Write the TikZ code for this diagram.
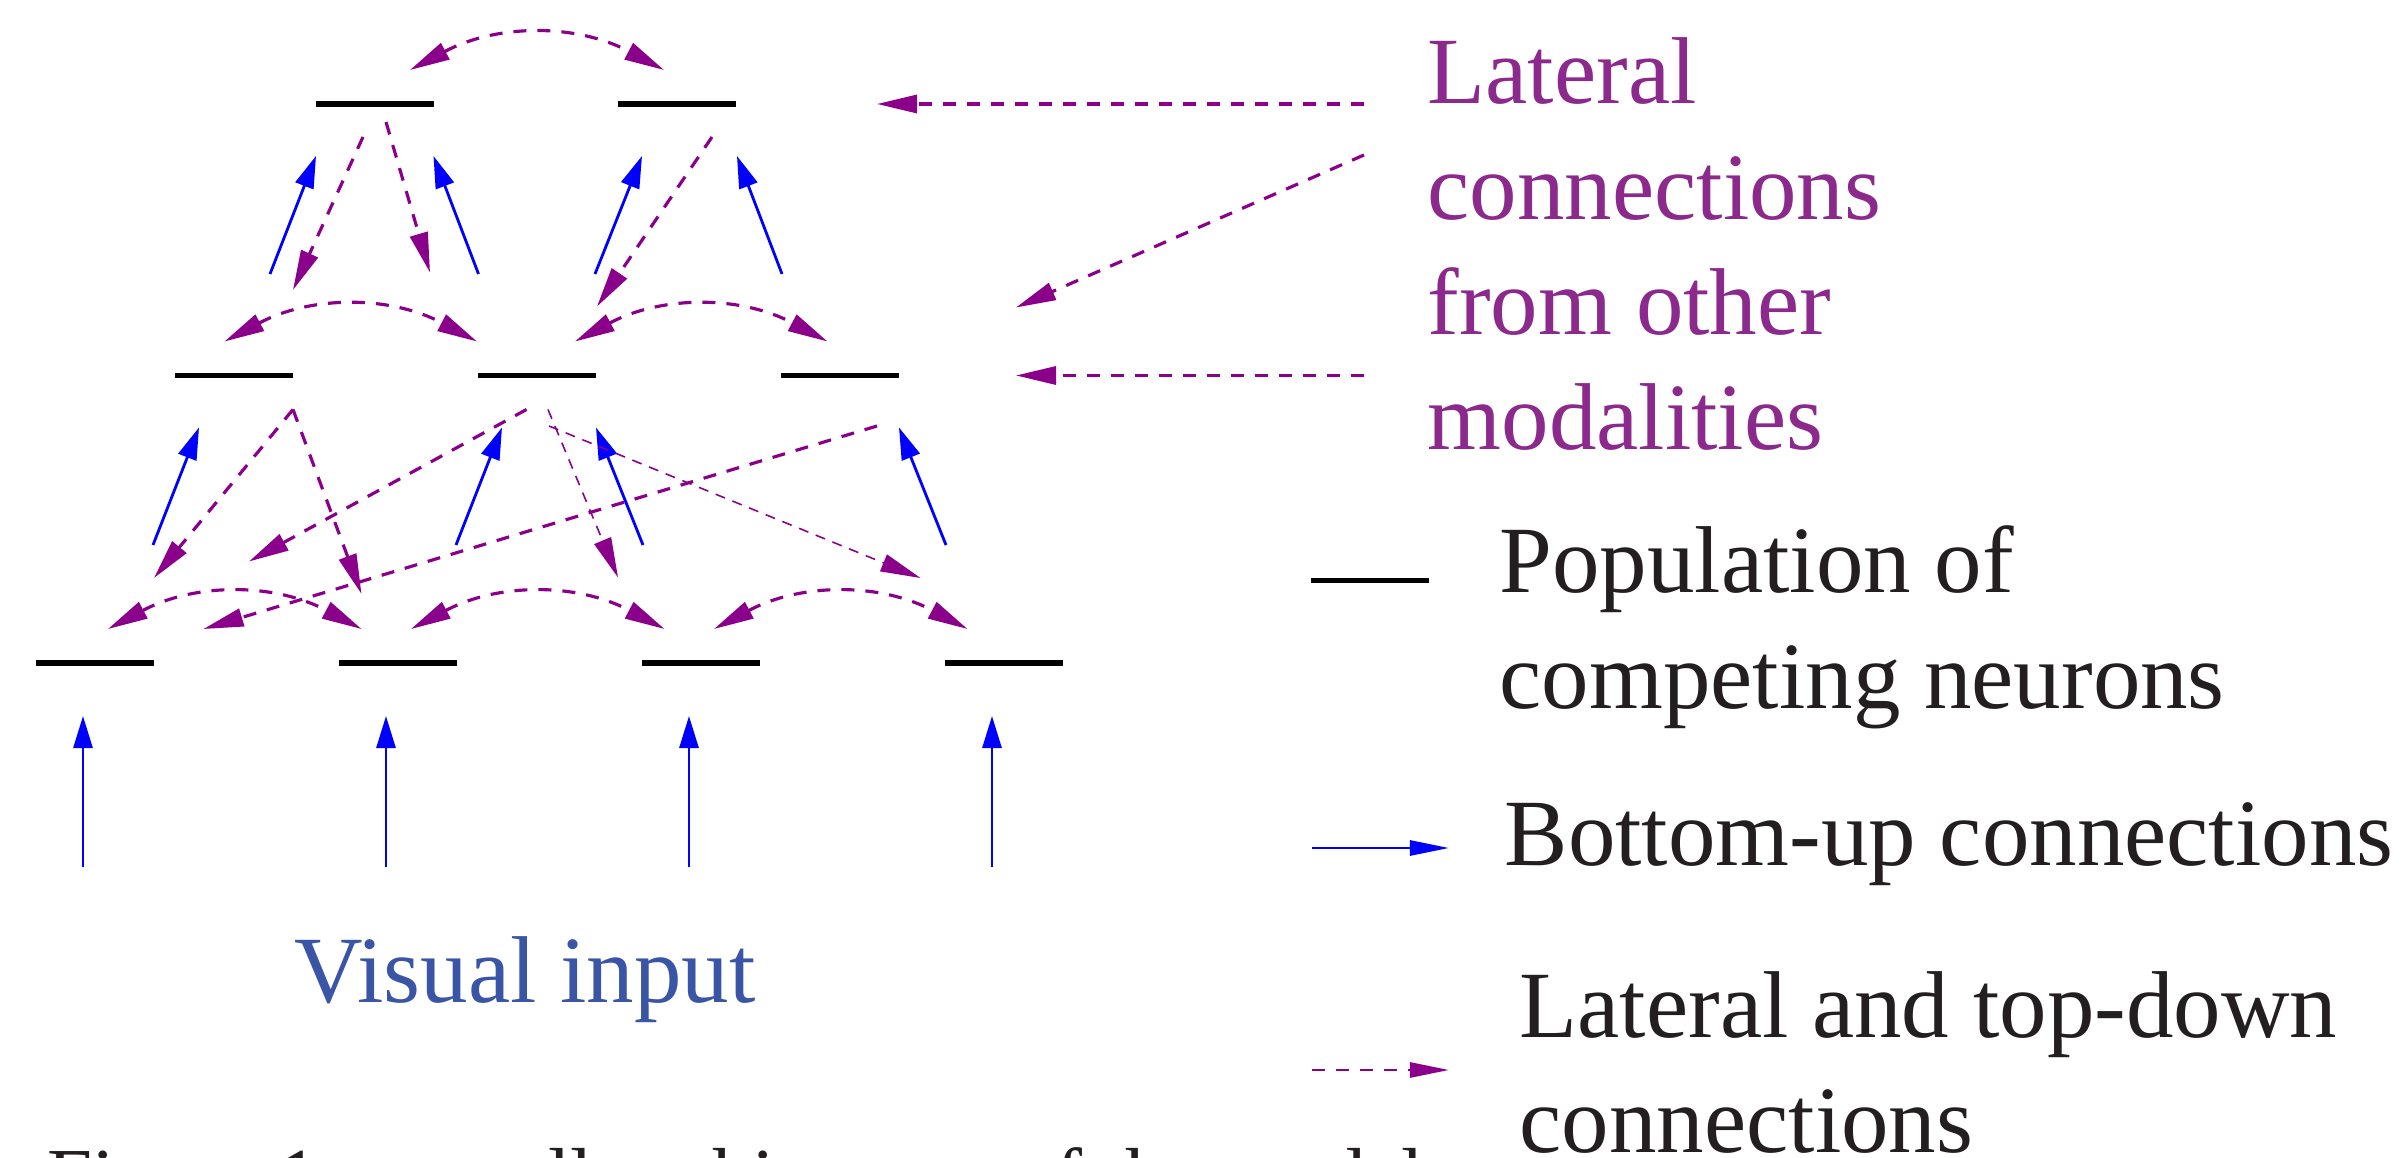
\documentclass[tikz,border=0pt]{standalone}
\usepackage{fontspec}
\setmainfont{Liberation Serif}
\usetikzlibrary{arrows.meta}
\definecolor{latpurple}{RGB}{139,0,139}
\definecolor{txtpurple}{RGB}{139,41,140}
\definecolor{upblue}{RGB}{0,0,255}
\definecolor{inblue}{RGB}{58,85,165}
\definecolor{ink}{RGB}{35,31,32}
\tikzset{
  popbar/.style={fill=black, inner sep=0pt, minimum width=1.17cm, minimum height=0.055cm},
  upconn/.style={draw=upblue, line width=0.8pt, -{Triangle[length=0.32cm, width=0.19cm]}},
  latconn/.style={draw=latpurple, line width=0.9pt, dash pattern=on 0.13cm off 0.11cm,
    -{Triangle[length=0.40cm, width=0.18cm]}},
  latthin/.style={latconn, line width=0.45pt, dash pattern=on 0.10cm off 0.08cm},
  latboth/.style={latconn, {Triangle[length=0.40cm, width=0.18cm]}-{Triangle[length=0.40cm, width=0.18cm]}},
}
\begin{document}
\begin{tikzpicture}[x=0.01cm, y=-0.01cm,
    txt/.style={anchor=base west, inner sep=0pt, font=\fontsize{27}{32}\selectfont}]
    \useasboundingbox (0,0) rectangle (2405,1158);
    \clip (0,0) rectangle (2405,1158);

    % three layers of populations
    \foreach \i in {1,...,4} {
        \pgfmathsetmacro\x{95+303*(\i-1)}
        \node[popbar] (b\i) at (\x,663) {};
        \draw[upconn] ([shift={(-12,204)}]b\i.center) -- ([shift={(-12,53)}]b\i.center);
    }
    \foreach \i in {1,...,3} {
        \pgfmathsetmacro\x{234+303*(\i-1)}
        \node[popbar] (m\i) at (\x,375.5) {};
    }
    \foreach \i in {1,2} {
        \pgfmathsetmacro\x{375+302*(\i-1)}
        \node[popbar] (t\i) at (\x,104) {};
    }

    % bottom-up
    \draw[upconn] ([shift={(58,-118)}]b1.center) -- ([shift={(-35,52)}]m1.center);
    \draw[upconn] ([shift={(58,-118)}]b2.center) -- ([shift={(-35,52)}]m2.center);
    \draw[upconn] ([shift={(-58,-118)}]b3.center) -- ([shift={(59,52)}]m2.center);
    \draw[upconn] ([shift={(-58,-118)}]b4.center) -- ([shift={(59,52)}]m3.center);
    \draw[upconn] ([shift={(36,-101.5)}]m1.center) -- ([shift={(-59,52)}]t1.center);
    \draw[upconn] ([shift={(-58.5,-101.5)}]m2.center) -- ([shift={(58.5,52)}]t1.center);
    \draw[upconn] ([shift={(58,-101.5)}]m2.center) -- ([shift={(-35,52)}]t2.center);
    \draw[upconn] ([shift={(-58,-101.5)}]m3.center) -- ([shift={(60,52)}]t2.center);

    % top-down
    \draw[latconn] ([shift={(-12,33)}]t1.center) -- ([shift={(59,-85.5)}]m1.center);
    \draw[latconn] ([shift={(11,18)}]t1.center) -- ([shift={(-107,-103)}]m2.center);
    \draw[latconn] ([shift={(35,33)}]t2.center) -- ([shift={(60,-69)}]m2.center);
    \draw[latconn] ([shift={(59,34)}]m1.center) -- ([shift={(59,-85)}]b1.center);
    \draw[latconn] ([shift={(59,34)}]m1.center) -- ([shift={(-36.5,-69)}]b2.center);
    \draw[latconn] ([shift={(-10.5,34)}]m2.center) -- ([shift={(154,-101.5)}]b1.center);
    \draw[latthin] ([shift={(11,34)}]m2.center) -- ([shift={(-83,-85.5)}]b3.center);
    \draw[latthin] ([shift={(12,50.5)}]m2.center) -- ([shift={(-83.5,-85)}]b4.center);
    \draw[latconn] ([shift={(37,50.5)}]m3.center) -- ([shift={(108.5,-34)}]b1.center);

    % lateral
    \draw[latboth] ([shift={(35,-34)}]t1.center) to[bend left=28] ([shift={(-13,-34)}]t2.center);
    \draw[latboth] ([shift={(-9.5,-34)}]m1.center) to[bend left=28] ([shift={(-60,-34)}]m2.center);
    \draw[latboth] ([shift={(38,-34)}]m2.center) to[bend left=28] ([shift={(-12.5,-34)}]m3.center);
    \foreach \i/\j in {1/2, 2/3, 3/4}
        \draw[latboth] ([shift={(13,-34)}]b\i.center) to[bend left=28] ([shift={(-36.5,-34)}]b\j.center);

    % other modalities
    \coordinate (in1) at (1364,104);
    \coordinate (in2) at (1364,155);
    \coordinate (in3) at (1364,375.5);
    \draw[latconn] (in1) -- ([shift={(200,0)}]t2.center);
    \draw[latconn] (in2) -- ([shift={(176,-68)}]m3.center);
    \draw[latconn] (in3) -- ([shift={(176,0)}]m3.center);
    \node[txt, txtpurple] (lat1) at (1427,104) {Lateral};
    \node[txt, txtpurple] (lat2) at (1427,220) {connections};
    \node[txt, txtpurple] (lat3) at (1427,335) {from other};
    \node[txt, txtpurple] (lat4) at (1427,450) {modalities};

    \node[txt, inblue] (vis) at (294,1002) {Visual input};

    % key
    \node[popbar] (key1) at (1370,580.5) {};
    \node[txt, ink] (key1a) at (1499,593) {Population of};
    \node[txt, ink] (key1b) at (1499,708.5) {competing neurons};
    \coordinate (k2s) at (1312,848);
    \coordinate (k2e) at (1449,848);
    \draw[upconn, -{Triangle[length=0.39cm, width=0.15cm]}] (k2s) -- (k2e);
    \node[txt, ink] (key2) at (1504,865) {Bottom-up connections};
    \coordinate (k3s) at (1312,1070);
    \coordinate (k3e) at (1449,1070);
    \draw[latconn, line width=0.75pt, -{Triangle[length=0.39cm, width=0.15cm]}] (k3s) -- (k3e);
    \node[txt, ink] (key3a) at (1519,1037) {Lateral and top-down};
    \node[txt, ink] (key3b) at (1519,1152) {connections};

    \node[txt, ink, font=\fontsize{23}{28}\selectfont] (cap) at (46.7,1204)
        {Figure 1: overall architecture of the model};
\end{tikzpicture}
\end{document}
